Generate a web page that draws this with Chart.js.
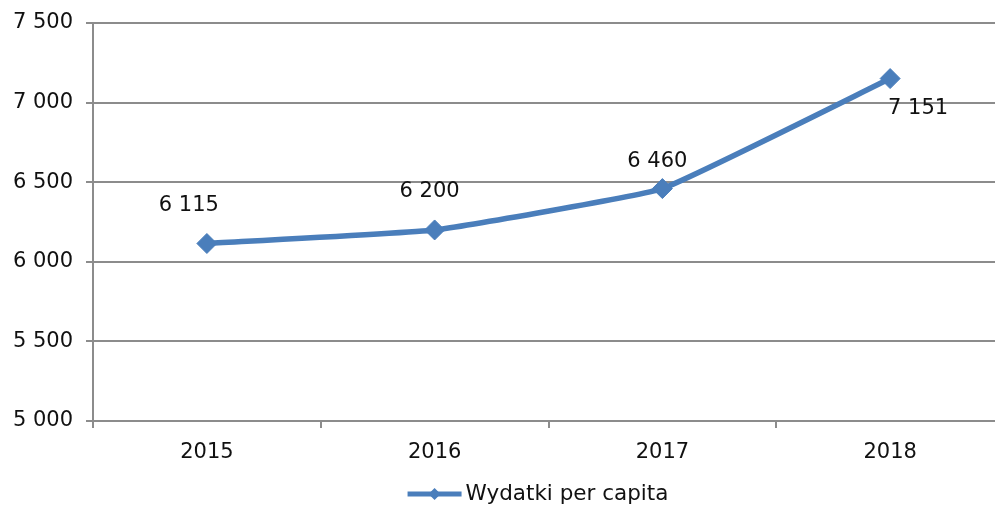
<!DOCTYPE html>
<html><head><meta charset="utf-8">
<script src="https://cdn.jsdelivr.net/npm/chart.js@4"></script>
<style>html,body{margin:0;padding:0;overflow:hidden;background:#fff;width:995px;height:507px}
#wrap{width:1012px;height:507px;position:relative}</style></head>
<body><div id="wrap"><canvas id="c" width="1012" height="507"></canvas></div>
<script>
const categories = ['2015', '2016', '2017', '2018'];
const spending = [6115, 6200, 6460, 7151];
const seriesName = 'Wydatki per capita';
const yMin = 5000, yMax = 7500, yStep = 500;

const fmt = v => String(Math.round(v)).replace(/\B(?=(\d{3})+(?!\d))/g, ' ');
const FONT = 'DejaVu Sans, Verdana, sans-serif';
const TXT = '#111';
const GRID = '#8c8c8c';
const BLUE = '#4a7ebb';

const labelPlugin = {
  id: 'valueLabels',
  afterDatasetsDraw(chart, args, opts) {
    const ctx = chart.ctx;
    const meta = chart.getDatasetMeta(0);
    ctx.save();
    ctx.font = opts.size + 'px ' + FONT;
    ctx.fillStyle = TXT;
    ctx.textAlign = 'center';
    ctx.textBaseline = 'middle';
    meta.data.forEach((pt, i) => {
      const off = opts.offsets[i] || [0, -30];
      ctx.fillText(fmt(chart.data.datasets[0].data[i]), pt.x + off[0], pt.y + off[1]);
    });
    ctx.restore();
  }
};

const legendPlugin = {
  id: 'lineLegend',
  afterDraw(chart, args, opts) {
    const ctx = chart.ctx;
    const ds = chart.data.datasets[0];
    ctx.save();
    ctx.font = opts.size + 'px ' + FONT;
    const tw = ctx.measureText(ds.label).width;
    const symW = 54, gap = 4;
    const total = symW + gap + tw;
    const x0 = opts.centerX - total / 2;
    const y = opts.y;
    ctx.strokeStyle = BLUE;
    ctx.lineWidth = 5;
    ctx.beginPath();
    ctx.moveTo(x0, y);
    ctx.lineTo(x0 + symW, y);
    ctx.stroke();
    const cx = x0 + symW / 2, r = 6;
    ctx.fillStyle = BLUE;
    ctx.beginPath();
    ctx.moveTo(cx, y - r); ctx.lineTo(cx + r, y); ctx.lineTo(cx, y + r); ctx.lineTo(cx - r, y);
    ctx.closePath();
    ctx.fill();
    ctx.fillStyle = TXT;
    ctx.textBaseline = 'middle';
    ctx.textAlign = 'left';
    ctx.fillText(ds.label, x0 + symW + gap, y);
    ctx.restore();
  }
};

new Chart(document.getElementById('c'), {
  type: 'line',
  data: {
    labels: categories,
    datasets: [{
      label: seriesName,
      data: spending,
      borderColor: BLUE,
      backgroundColor: BLUE,
      borderWidth: 5.5,
      tension: 0.1,
      pointStyle: 'rectRot',
      pointRadius: 10,
      pointBorderWidth: 1,
      pointBackgroundColor: BLUE,
      pointBorderColor: BLUE,
      fill: false
    }]
  },
  options: {
    responsive: false,
    animation: false,
    layout: { autoPadding: false, padding: { top: 23, right: 8, bottom: 0, left: 0 } },
    plugins: {
      legend: { display: false },
      tooltip: { enabled: false },
      valueLabels: { size: 21, offsets: [[-18, -38], [-5, -38], [-5, -27], [28, 30]] },
      lineLegend: { size: 21.5, centerX: 538, y: 494 }
    },
    scales: {
      x: {
        type: 'category',
        offset: true,
        grid: { offset: true, drawOnChartArea: false, drawTicks: true, tickLength: 7, color: GRID, lineWidth: 2 },
        border: { display: true, color: GRID, width: 2 },
        ticks: { padding: 12, color: TXT, font: { family: FONT, size: 21 } },
        afterFit: s => { s.height = 86; s.paddingLeft = 0; s.paddingRight = 0; }
      },
      y: {
        min: yMin, max: yMax,
        grid: { color: GRID, lineWidth: 2, tickLength: 7 },
        border: { display: true, color: GRID, width: 2 },
        ticks: { stepSize: yStep, padding: 13, color: TXT, font: { family: FONT, size: 21 }, callback: v => fmt(v) },
        afterFit: s => { s.width = 93; s.paddingTop = 0; s.paddingBottom = 0; }
      }
    }
  },
  plugins: [labelPlugin, legendPlugin]
});
</script></body></html>
